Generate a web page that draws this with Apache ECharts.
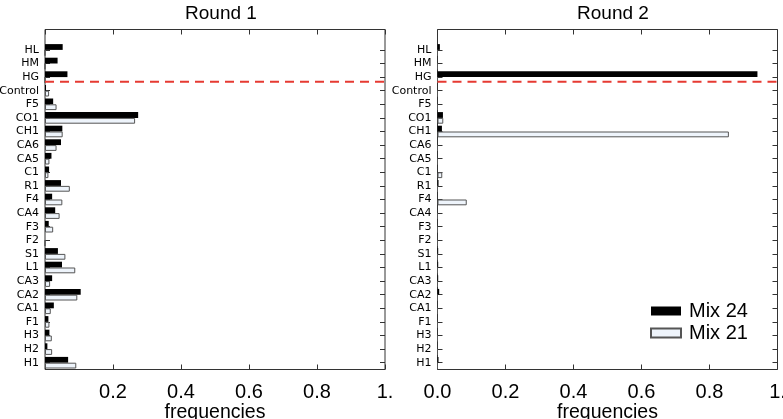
<!DOCTYPE html>
<html>
<head>
<meta charset="utf-8">
<script src="https://cdn.jsdelivr.net/npm/echarts@6/dist/echarts.min.js"></script>
<style>
html,body{margin:0;padding:0;background:#fff;}
#chart{width:783px;height:419px;}
</style>
</head>
<body>
<div id="chart"></div>
<script>
// Categories, bottom to top
const categories = ['H1','H2','H3','F1','CA1','CA2','CA3','L1','S1','F2','F3','CA4','F4','R1','C1','CA5','CA6','CH1','CO1','F5','Control','HG','HM','HL'];
const titles = ['Round 1', 'Round 2'];
const seriesNames = ['Mix 24', 'Mix 21'];
const xTicks = [0, 0.2, 0.4, 0.6, 0.8, 1.0];
const xAxisName = 'frequencies';

// Round 1
const round1Mix24 = [0.068,0.007,0.013,0.010,0.026,0.105,0.021,0.050,0.038,0,0.011,0.030,0.021,0.047,0.012,0.019,0.047,0.051,0.274,0.024,0.003,0.066,0.037,0.052];
const round1Mix21 = [0.092,0.021,0.020,0.013,0.017,0.095,0.015,0.089,0.060,0,0.024,0.043,0.051,0.073,0.010,0.013,0.034,0.052,0.265,0.034,0.012,0,0,0];
// Round 2
const round2Mix24 = [0.003,0,0,0,0,0.005,0.002,0.002,0.002,0,0,0,0,0.003,0,0,0,0.013,0.016,0,0,0.941,0,0.007];
const round2Mix21 = [0,0,0,0,0,0,0,0,0,0,0,0,0.086,0,0.014,0,0,0.857,0.017,0,0,0,0,0];

// Separator (between HG and Control), in band units from bottom
const separatorY = 21.15;

const axisCats = categories.concat(['']);
const spine = '#333';
const sansLatin = '"Liberation Sans", Arial, sans-serif';
const sansDejavu = '"DejaVu Sans", sans-serif';

const chart = echarts.init(document.getElementById('chart'), null, {renderer: 'canvas'});

const grids = [
  {left: 45, top: 29.5, width: 340, height: 340},
  {left: 437.5, top: 29.5, width: 340, height: 340}
];

function fmt(hideZero) {
  return function (v) {
    if (Math.abs(v - 1) < 1e-9) return '1.';
    if (hideZero && Math.abs(v) < 1e-9) return '';
    return v.toFixed(1);
  };
}

const xAxes = [], yAxes = [], series = [];
const data = [[round1Mix24, round1Mix21], [round2Mix24, round2Mix21]];
const lineOff = {show: false, onZero: false};
const tickIn = {show: true, inside: true, length: 5, lineStyle: {color: spine}};
const catTickIn = {show: true, inside: true, length: 5, alignWithLabel: true,
  interval: function (i, v) { return v !== ''; }, lineStyle: {color: spine}};

grids.forEach(function (g, gi) {
  // bottom x axis
  xAxes.push({
    gridIndex: gi, type: 'value', min: xTicks[0], max: xTicks[xTicks.length - 1], interval: 0.2,
    position: 'bottom',
    name: xAxisName, nameLocation: 'middle', nameGap: 33, nameMoveOverlap: false,
    nameTextStyle: {fontFamily: sansLatin, fontSize: 19.5, color: '#000'},
    axisLine: lineOff,
    axisTick: tickIn,
    axisLabel: {fontFamily: sansLatin, fontSize: 20, color: '#000', margin: 13, formatter: fmt(gi === 0),
      showMinLabel: true, showMaxLabel: true},
    splitLine: {show: false}
  });
  // top x axis (mirrored ticks)
  xAxes.push({
    gridIndex: gi, type: 'value', min: 0, max: 1, interval: 0.2, position: 'top',
    axisLine: lineOff,
    axisTick: tickIn,
    axisLabel: {show: false}, splitLine: {show: false}
  });
  // left category axis with labels
  yAxes.push({
    gridIndex: gi, type: 'category', data: axisCats, position: 'left',
    axisLine: lineOff,
    axisTick: catTickIn,
    axisLabel: {interval: 0, fontFamily: sansDejavu, fontSize: 11, color: '#000', margin: 6},
    splitLine: {show: false}
  });
  // right category axis (mirrored ticks)
  yAxes.push({
    gridIndex: gi, type: 'category', data: axisCats, position: 'right',
    axisLine: lineOff,
    axisTick: catTickIn,
    axisLabel: {show: false}, splitLine: {show: false}
  });
  // hidden value axis for separator line
  yAxes.push({
    gridIndex: gi, type: 'value', min: 0, max: axisCats.length, show: false,
    axisLine: lineOff
  });

  const xi = gi * 2, yi = gi * 3;
  series.push({
    name: seriesNames[0], type: 'bar', xAxisIndex: xi, yAxisIndex: yi,
    data: data[gi][0], barWidth: 5.8, barGap: '0%',
    itemStyle: {color: '#000', borderColor: '#000', borderWidth: 0},
    emphasis: {disabled: true}
  });
  series.push({
    name: seriesNames[1], type: 'bar', xAxisIndex: xi, yAxisIndex: yi,
    data: data[gi][1], barWidth: 5.8, barGap: '0%',
    itemStyle: {color: '#eef4fb', borderColor: '#555', borderWidth: 1},
    emphasis: {disabled: true}
  });
  series.push({
    type: 'line', xAxisIndex: xi, yAxisIndex: yi + 2,
    data: [[0, separatorY], [1, separatorY]],
    symbol: 'none', silent: true, z: 5,
    lineStyle: {color: '#e63a32', width: 2, type: [9, 6]}
  });
});

chart.setOption({
  animation: false,
  backgroundColor: '#fff',
  title: [
    {text: titles[0], left: 216, top: -1, textAlign: 'center',
      textStyle: {fontFamily: sansLatin, fontSize: 19, fontWeight: 'normal', color: '#000'}},
    {text: titles[1], left: 608, top: -1, textAlign: 'center',
      textStyle: {fontFamily: sansLatin, fontSize: 19, fontWeight: 'normal', color: '#000'}}
  ],
  legend: {
    data: seriesNames, orient: 'vertical', left: 645, top: 296,
    icon: 'rect',
    itemWidth: 30, itemHeight: 9, itemGap: 2,
    textStyle: {fontFamily: sansLatin, fontSize: 20, color: '#000', padding: [0, 0, 0, 3]},
    selectedMode: false
  },
  grid: grids.map(function (g) {
    return Object.assign({show: true, borderColor: spine, borderWidth: 1, backgroundColor: 'transparent',
      containLabel: false, outerBoundsMode: 'none'}, g);
  }),
  xAxis: xAxes,
  yAxis: yAxes,
  series: series
});
</script>
</body>
</html>
